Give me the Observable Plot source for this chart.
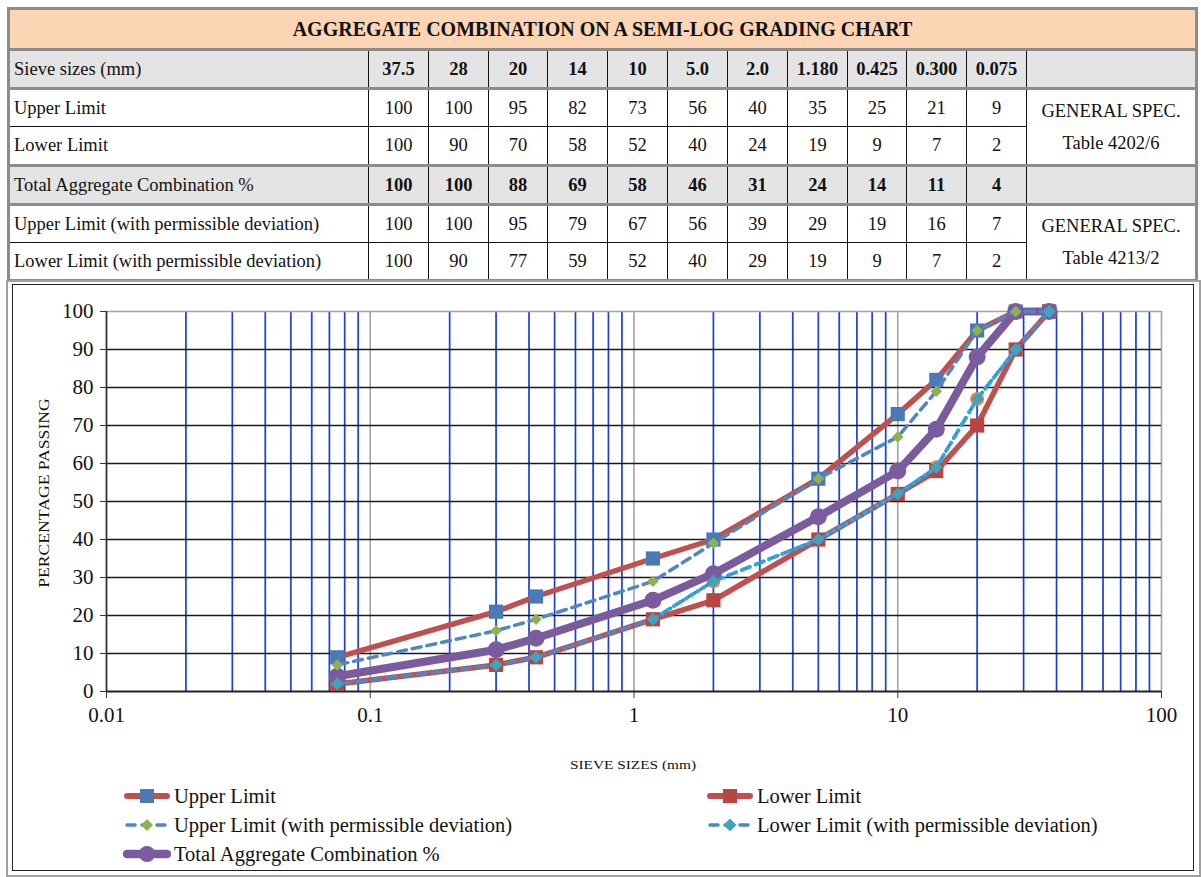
<!DOCTYPE html>
<html><head><meta charset="utf-8">
<script src="https://cdn.jsdelivr.net/npm/d3@7"></script>
<script src="https://cdn.jsdelivr.net/npm/@observablehq/plot@0.6"></script>
<style>
body{margin:0;background:#fff;font-family:"Liberation Serif","Times New Roman",serif;color:#111}
#page{position:relative;width:1201px;height:877px;overflow:hidden;background:#fff}
#tbl{position:absolute;left:7px;top:7px;border-collapse:collapse;table-layout:fixed;font-size:18.5px;border:3px solid #8c8c8c}
#tbl td{border:1px solid #111;padding:0;text-align:center;height:36.2px;line-height:18px;white-space:nowrap}
#tbl td.lab{text-align:left;padding-left:4px}
#tbl tr.thick td{border-top:3px solid #8c8c8c}
#tbl tr.gray td{background:#e4e4e4}
#tbl tr.bold td.v{font-weight:bold}
#tbl td.title{background:#fcd5b4;font-weight:bold;font-size:20px;height:38px;border:none}
#frameO{position:absolute;left:6px;top:280px;width:1191px;height:593px;border:2px solid #a0a0a0}
#frameI{position:absolute;left:12px;top:284px;width:1180px;height:585px;border:1.5px solid #222}
#chart{position:absolute;left:0;top:281px}
.lbl{position:absolute;font-size:13px;white-space:nowrap}
.leg{position:absolute;display:flex;align-items:center;font-size:20.5px;white-space:nowrap}
.leg svg{margin-right:3px}
</style></head>
<body><div id="page">
<table id="tbl"></table>
<div id="frameO"></div><div id="frameI"></div>
<div id="chart"></div>
<div class="lbl" id="xlab" style="left:633px;top:757px;transform:translateX(-50%) scaleX(1.18)">SIEVE SIZES (mm)</div>
<div class="lbl" id="ylab" style="left:45px;top:493px;font-size:14px;transform:translate(-50%,-50%) rotate(-90deg) scaleX(1.26)">PERCENTAGE PASSING</div>
<div id="legend"></div>
</div>
<script>
// ---- data ----
const title = "AGGREGATE COMBINATION ON A SEMI-LOG GRADING CHART";
const sieveLabels = ["37.5","28","20","14","10","5.0","2.0","1.180","0.425","0.300","0.075"];
const sieveSizes = [37.5, 28, 20, 14, 10, 5, 2, 1.18, 0.425, 0.3, 0.075];
const upperLimit = [100,100,95,82,73,56,40,35,25,21,9];
const lowerLimit = [100,90,70,58,52,40,24,19,9,7,2];
const totalComb = [100,100,88,69,58,46,31,24,14,11,4];
const upperDev = [100,100,95,79,67,56,39,29,19,16,7];
const lowerDev = [100,90,77,59,52,40,29,19,9,7,2];
// extra (unlabelled) overlay series visible in the chart
const overlaySizes = [28,20,14,10,5,2,1.18];
const overlayValues = [90,77,59,52,40,29,19];
const specA = ["GENERAL SPEC.","Table 4202/6"];
const specB = ["GENERAL SPEC.","Table 4213/2"];
const xTicks = [0.01,0.1,1,10,100];
const yTicks = [0,10,20,30,40,50,60,70,80,90,100];
const names = {
  upper:"Upper Limit", lower:"Lower Limit", total:"Total Aggregate Combination %",
  upperDev:"Upper Limit (with permissible deviation)", lowerDev:"Lower Limit (with permissible deviation)",
  sieve:"Sieve sizes (mm)"
};

// ---- table ----
const colW = [60,60,59,60,60,60,60,60,59,60,60];
const tbl = document.getElementById("tbl");
let html = "<colgroup><col style='width:360px'>" + colW.map(w=>`<col style='width:${w}px'>`).join("") + "<col style='width:170px'></colgroup>";
html += `<tr><td class="title" colspan="13">${title}</td></tr>`;
const row = (cls, label, vals, extra) =>
  `<tr class="${cls}"><td class="lab">${label}</td>${vals.map(v=>`<td class="v">${v}</td>`).join("")}${extra}</tr>`;
const spec = s => `<td rowspan="2" style="line-height:32px">${s[0]}<br>${s[1]}</td>`;
html += row("thick gray bold", names.sieve, sieveLabels, "<td></td>");
html += row("thick", names.upper, upperLimit, spec(specA));
html += row("", names.lower, lowerLimit, "");
html += row("thick gray bold", names.total, totalComb, "<td></td>");
html += row("thick", names.upperDev, upperDev, spec(specB));
html += row("", names.lowerDev, lowerDev, "");
tbl.innerHTML = html;

// ---- chart ----
const mk = (xs, ys) => xs.map((s,i)=>({size:s, value:ys[i]}));
const dU = mk(sieveSizes, upperLimit), dL = mk(sieveSizes, lowerLimit), dT = mk(sieveSizes, totalComb),
      dUD = mk(sieveSizes, upperDev), dLD = mk(sieveSizes, lowerDev), dO = mk(overlaySizes, overlayValues);
const minor = [];
for (const e of [-2,-1,0,1]) for (let m=2;m<=9;m++) minor.push(+(m*Math.pow(10,e)).toPrecision(3));
const C = {red:"#c0504d", redM:"#b94542", blue:"#4a7ab5", purple:"#7a5c9e", green:"#8fb14f", teal:"#3fa3bd", dash:"#4f86c6", cyan:"#14b4ee", orange:"#f28a36"};
const xy = {x:"size", y:"value"};
const chart = Plot.plot({
  width:1201, height:510, marginLeft:106, marginRight:40, marginTop:30, marginBottom:100,
  style:{fontFamily:"Liberation Serif", fontSize:"21px", color:"#111", background:"transparent"},
  x:{type:"log", domain:[0.01,100]},
  y:{domain:[0,100]},
  marks:[
    Plot.ruleX(minor, {stroke:"#3d68f2", strokeWidth:1.8}),
    Plot.ruleX(minor, {stroke:"#1424a8", strokeWidth:0.7}),
    Plot.ruleX(xTicks.slice(1), {stroke:"#a3a3a3", strokeWidth:1.6}),
    Plot.ruleY(yTicks.slice(1,-1), {stroke:"#1a1a1a", strokeWidth:1.5}),
    Plot.ruleY([100], {stroke:"#a3a3a3", strokeWidth:1.6}),
    Plot.ruleX([0.01], {stroke:"#333", strokeWidth:1.8}),
    Plot.ruleY([0], {stroke:"#222", strokeWidth:1.8}),
    Plot.axisY({ticks:yTicks, tickSize:6, tickPadding:7, fontSize:21, label:null, stroke:"#333"}),
    Plot.axisX({ticks:xTicks, tickSize:7, tickPadding:9, fontSize:21, label:null, tickFormat:d3.format("~g"), stroke:"#333"}),
    Plot.dot(dO, {...xy, r:7, fill:C.orange}),
    Plot.line(dU, {...xy, stroke:C.red, strokeWidth:5.5}),
    Plot.line(dL, {...xy, stroke:C.red, strokeWidth:5.5}),
    Plot.dot(dU, {...xy, symbol:"square", r:8, fill:C.blue}),
    Plot.dot(dL, {...xy, symbol:"square", r:8, fill:C.redM}),
    Plot.line(dT, {...xy, stroke:C.purple, strokeWidth:8}),
    Plot.dot(dT, {...xy, r:8.5, fill:C.purple}),
    Plot.line(dUD, {...xy, stroke:C.dash, strokeWidth:3.5, strokeDasharray:"9,6"}),
    Plot.line(dLD, {...xy, stroke:C.dash, strokeWidth:3.5, strokeDasharray:"9,6"}),
    Plot.line(dO, {...xy, stroke:C.cyan, strokeWidth:4, strokeDasharray:"0.1,7", strokeLinecap:"round"}),
    Plot.dot(dUD, {...xy, symbol:"diamond2", r:5.2, fill:C.green}),
    Plot.dot(dLD, {...xy, symbol:"diamond2", r:5.8, fill:C.teal})
  ]
});
document.getElementById("chart").appendChild(chart);

// ---- legend ----
const leg = document.getElementById("legend");
const sw = (lineColor, lw, dash, marker) => {
  let m = "";
  if (marker.t==="square") m = `<rect x="17" y="4" width="14" height="14" fill="${marker.c}"/>`;
  if (marker.t==="diamond") m = `<path d="M24 ${11-marker.s}L${24+marker.s} 11L24 ${11+marker.s}L${24-marker.s} 11Z" fill="${marker.c}"/>`;
  if (marker.t==="circle") m = `<circle cx="24" cy="11" r="8" fill="${marker.c}"/>`;
  return `<svg width="48" height="22"><line x1="4" x2="44" y1="11" y2="11" stroke="${lineColor}" stroke-width="${lw}" stroke-linecap="round" ${dash?`stroke-dasharray="${dash}"`:""}/>${m}</svg>`;
};
const items = [
  {x:123, y:796, t:names.upper, s:sw(C.red,6,null,{t:"square",c:C.blue})},
  {x:706, y:796, t:names.lower, s:sw(C.red,6,null,{t:"square",c:C.redM})},
  {x:123, y:825, t:names.upperDev, s:sw(C.dash,3.5,"8,7",{t:"diamond",c:C.green,s:6})},
  {x:706, y:825, t:names.lowerDev, s:sw(C.dash,3.5,"8,7",{t:"diamond",c:C.teal,s:6.5})},
  {x:123, y:854, t:names.total, s:sw(C.purple,8.5,null,{t:"circle",c:C.purple})}
];
leg.innerHTML = items.map(d=>`<div class="leg" style="left:${d.x}px;top:${d.y-11}px;height:22px">${d.s}<span>${d.t}</span></div>`).join("");
</script>
</body></html>
